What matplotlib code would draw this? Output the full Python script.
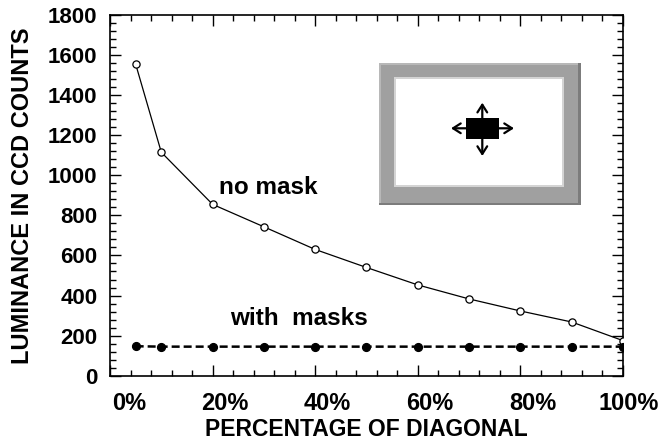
import matplotlib
matplotlib.use("Agg")
import matplotlib.pyplot as plt
from matplotlib.patches import Rectangle
from matplotlib.ticker import MultipleLocator, FuncFormatter
from matplotlib.transforms import ScaledTranslation

plt.rcParams['font.family'] = ['Liberation Sans', 'DejaVu Sans']
plt.rcParams['font.weight'] = 'bold'

# position along the diagonal (%)
diag = [5, 10, 20, 30, 40, 50, 60, 70, 80, 90, 100]
# luminance, CCD counts
no_mask = [1555, 1115, 855, 743, 630, 540, 453, 383, 323, 268, 175]
with_masks = [147, 145, 145, 145, 145, 145, 145, 145, 145, 145, 145]

fig = plt.figure(figsize=(6.64, 4.48), dpi=100)
ax = fig.add_axes([110/664, 1 - 375.7/448, 513/664, 360.7/448])

ax.plot(diag, no_mask, color='black', lw=0.9, marker='o', ms=5.2,
        mfc='white', mec='black', mew=0.9, zorder=3)
ax.plot(diag, with_masks, color='black', lw=1.8, dashes=(3.2, 1.6),
        marker='o', ms=5.6, mfc='black', mec='black', zorder=3)

ax.set_xlim(0, 100)
ax.set_ylim(0, 1800)
ax.xaxis.set_major_locator(MultipleLocator(20))
ax.xaxis.set_minor_locator(MultipleLocator(4))
ax.yaxis.set_major_locator(MultipleLocator(200))
ax.yaxis.set_minor_locator(MultipleLocator(40))
ax.xaxis.set_major_formatter(FuncFormatter(lambda v, p: '%d%%' % v))

ax.tick_params(which='both', direction='in', top=True, right=True, width=1.0)
ax.tick_params(which='major', length=8)
ax.tick_params(which='minor', length=4)
ax.tick_params(axis='x', pad=12, labelsize=17)
ax.tick_params(axis='y', pad=9, labelsize=16)
for s in ax.spines.values():
    s.set_linewidth(1.2)

# percent labels sit to the right of their ticks
shift = ScaledTranslation(0.36, 0, fig.dpi_scale_trans)
for lab in ax.get_xticklabels():
    lab.set_horizontalalignment('right')
    lab.set_transform(lab.get_transform() + shift)

ax.set_xlabel('PERCENTAGE OF DIAGONAL', fontsize=16.5, fontweight='bold', labelpad=2)
ax.set_ylabel('LUMINANCE IN CCD COUNTS', fontsize=17, fontweight='bold', labelpad=10)

ax.text(21.2, 941, 'no mask', fontsize=17.5, fontweight='bold', va='center', ha='left')
ax.text(23.4, 283, 'with  masks', fontsize=17.5, fontweight='bold', va='center', ha='left')

# sketch of the screen with the moving patch
ins = fig.add_axes([379.3/664, (448 - 205)/448, 201.4/664, 142.3/448])
ins.set_xlim(0, 201.4)
ins.set_ylim(142.3, 0)
ins.axis('off')
ins.add_patch(Rectangle((0, 0), 201.4, 142.3, fc='#7c7c7c', ec='none'))
ins.add_patch(Rectangle((0, 0), 199, 140, fc='#b8b8b8', ec='none'))
ins.add_patch(Rectangle((2, 2), 197, 138, fc='#a0a0a0', ec='none'))
ins.add_patch(Rectangle((14.7, 14.6), 170.3, 110, fc='#d4d4d4', ec='none'))
ins.add_patch(Rectangle((16.7, 16.6), 166.3, 106, fc='white', ec='none'))
cx, cy = 103, 65.6
for tip in [(71.7, cy), (134.7, cy), (cx, 40), (cx, 93.3)]:
    ins.annotate('', xy=tip, xytext=(cx, cy),
                 arrowprops=dict(arrowstyle='->,head_length=0.55,head_width=0.35',
                                 lw=1.6, color='black', shrinkA=0, shrinkB=0))
ins.add_patch(Rectangle((86.7, 55), 33, 21.3, fc='black', ec='none', zorder=5))

fig.savefig('out.png', dpi=100)
